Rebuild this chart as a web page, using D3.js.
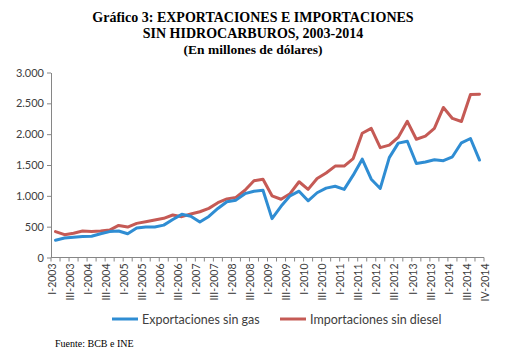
<!DOCTYPE html>
<html><head><meta charset="utf-8">
<script src="https://cdn.jsdelivr.net/npm/d3@7"></script>
<style>body{margin:0;background:#fff}svg{display:block}</style>
</head><body>
<script>
const years = d3.range(2003, 2015);
const quarters = ["I","II","III","IV"];
const categories = years.flatMap(y => quarters.map(q => q + "-" + y));
const exportaciones = [280,315,330,340,345,385,420,430,385,480,495,495,525,615,700,670,575,665,795,905,930,1035,1075,1090,630,830,1000,1075,920,1050,1125,1155,1105,1335,1595,1270,1120,1620,1855,1885,1525,1550,1585,1570,1633,1860,1930,1580];
const importaciones = [420,370,392,429,420,430,445,520,494,553,580,608,635,689,662,705,742,797,888,950,975,1090,1245,1270,1000,945,1035,1228,1105,1280,1370,1482,1482,1605,2015,2093,1782,1823,1950,2208,1918,1968,2093,2433,2255,2205,2644,2647];
const yTicks = [0,500,1000,1500,2000,2500,3000];
const seriesNames = ["Exportaciones sin gas","Importaciones sin diesel"];
const titleLines = ["Gráfico 3: EXPORTACIONES E IMPORTACIONES","SIN HIDROCARBUROS, 2003-2014","(En millones de dólares)"];
const source = "Fuente: BCB e INE";

const W = 518, H = 356;
const svg = d3.select("body").append("svg").attr("width", W).attr("height", H);
const x = d3.scaleBand().domain(categories).range([51, 484]);
const y = d3.scaleLinear().domain([0, 3000]).range([257.5, 72.5]);
const fmt = d => d3.format(",")(d).replace(/,/g, ".");
const axisCol = "#868686";
const sansFont = "Lato, 'Open Sans', sans-serif";

// title
svg.append("g").selectAll("text").data(titleLines).join("text")
  .attr("x", 253).attr("y", (d,i) => 22 + i*16)
  .attr("text-anchor", "middle")
  .attr("font-family", "'Liberation Serif', 'Times New Roman', serif")
  .attr("font-weight", "bold")
  .attr("font-size", (d,i) => i < 2 ? 14 : 13.5)
  .attr("fill", "#000").text(d => d);

// y axis
const ya = svg.append("g").attr("transform", "translate(51,0)")
  .call(d3.axisLeft(y).tickValues(yTicks).tickFormat(fmt).tickSize(4).tickSizeOuter(0));
ya.select(".domain").attr("stroke", axisCol);
ya.selectAll(".tick line").attr("stroke", axisCol);
ya.selectAll(".tick text").attr("font-family", sansFont).attr("font-size", 11).attr("fill", "#404040").attr("x", -7);

// x axis
const xa = svg.append("g").attr("transform", "translate(0,257.5)");
xa.append("line").attr("x1", 51).attr("x2", 484).attr("stroke", axisCol);
const tickPos = categories.map(d => x(d)).concat([x.range()[1]]);
xa.selectAll("line.t").data(tickPos).join("line").attr("class","t")
  .attr("x1", d => d).attr("x2", d => d)
  .attr("y1", 0).attr("y2", 4).attr("stroke", axisCol);
const labelled = categories.map((d,i) => ({d, i})).filter(o => o.i % 2 === 0 || o.i === categories.length - 1);
xa.selectAll("text").data(labelled).join("text")
  .attr("transform", o => `translate(${(o.i === categories.length - 1 ? x.range()[1] : x(o.d)) + 4.7},6) rotate(-90)`)
  .attr("text-anchor", "end")
  .attr("font-family", sansFont).attr("font-size", 10.5).attr("fill", "#404040")
  .text(o => o.d);

// lines
const colors = ["#2F8DD3", "#C55A55"];
const line = d3.line().x((d,i) => x(categories[i]) + x.bandwidth()/2).y(d => y(d));
[importaciones, exportaciones].forEach((s, k) => {
  svg.append("path").datum(s).attr("d", line)
    .attr("fill", "none").attr("stroke", colors[1-k]).attr("stroke-width", 3)
    .attr("stroke-linejoin", "round").attr("stroke-linecap", "round");
});

// legend
const leg = svg.append("g");
const legX = [112, 280];
seriesNames.forEach((n, i) => {
  leg.append("line").attr("x1", legX[i]).attr("x2", legX[i] + 26).attr("y1", 319).attr("y2", 319)
    .attr("stroke", colors[i]).attr("stroke-width", 3);
  leg.append("text").attr("x", legX[i] + 30).attr("y", 323.5)
    .attr("font-family", sansFont).attr("font-size", 12.5).attr("fill", "#404040").text(n);
});

// source
svg.append("text").attr("x", 55).attr("y", 347)
  .attr("font-family", "'Liberation Serif', 'Times New Roman', serif")
  .attr("font-size", 10).attr("fill", "#000").text(source);
</script>
</body></html>
